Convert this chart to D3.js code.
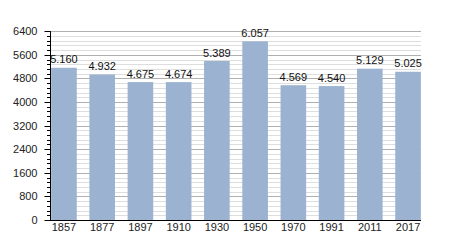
<!DOCTYPE html>
<html>
<head>
  <meta charset="utf-8">
  <title>Population</title>
  <script src="https://d3js.org/d3.v7.min.js"></script>
  <style>
    body { margin: 0; background: white; }
    text { font-family: "Liberation Sans", Arial, sans-serif; }
  </style>
</head>
<body>
  <script>
    var years = ["1857", "1877", "1897", "1910", "1930", "1950", "1970", "1991", "2011", "2017"];
    var population = [5160, 4932, 4675, 4674, 5389, 6057, 4569, 4540, 5129, 5025];
    var yTicks = [0, 800, 1600, 2400, 3200, 4000, 4800, 5600, 6400];
    var minorStep = 160;

    var width = 450, height = 250;
    var plotLeft = 50, plotRight = 422, plotTop = 31.2, plotBottom = 220;
    var gridEnd = 421;

    var svg = d3.select('body').append('svg')
      .attr('width', width)
      .attr('height', height);

    var x = d3.scaleBand()
      .domain(years)
      .range([plotLeft, plotRight])
      .paddingInner(0.33)
      .paddingOuter(0.03);

    var y = d3.scaleLinear()
      .domain([0, 6400])
      .range([plotBottom, plotTop]);

    var minorTicks = d3.range(0, 6400 + 1, minorStep).filter(function(v) { return v % 800 !== 0; });

    function py(d) { return Math.round(y(d)) + 0.5; }

    // minor grid
    svg.append('g').selectAll('line')
      .data(minorTicks)
      .enter().append('line')
      .attr('x1', plotLeft).attr('x2', gridEnd)
      .attr('y1', py).attr('y2', py)
      .attr('stroke', '#dedede');

    // major grid
    svg.append('g').selectAll('line')
      .data(yTicks.slice(1))
      .enter().append('line')
      .attr('x1', plotLeft).attr('x2', gridEnd)
      .attr('y1', py).attr('y2', py)
      .attr('stroke', '#b0b0b0');

    // bars
    var bars = svg.append('g').selectAll('g')
      .data(population)
      .enter().append('g');

    bars.append('rect')
      .attr('x', function(d, i) { return x(years[i]); })
      .attr('y', function(d) { return y(d); })
      .attr('width', x.bandwidth())
      .attr('height', function(d) { return plotBottom - y(d); })
      .attr('fill', '#9bb2d0');

    bars.append('text')
      .attr('x', function(d, i) { return x(years[i]) + x.bandwidth() / 2; })
      .attr('y', function(d) { return y(d) - 4.5; })
      .attr('text-anchor', 'middle')
      .attr('fill', '#111')
      .style('font-size', '11px')
      .text(function(d) { return d3.format(',')(d).replace(',', '.'); });

    // y axis minor ticks
    svg.append('g').selectAll('line')
      .data(minorTicks)
      .enter().append('line')
      .attr('x1', plotLeft - 3).attr('x2', plotLeft + 0.5)
      .attr('y1', py).attr('y2', py)
      .attr('stroke', '#000');

    var yAxis = d3.axisLeft(y)
      .tickValues(yTicks)
      .tickSize(6)
      .tickPadding(7)
      .tickFormat(d3.format('d'));

    var yg = svg.append('g')
      .attr('transform', 'translate(' + (plotLeft + 0.5) + ',0)')
      .call(yAxis);
    yg.select('.domain').remove();
    yg.selectAll('.tick').attr('transform', function(d) { return 'translate(0,' + py(d) + ')'; });
    yg.append('line')
      .attr('x1', 0).attr('x2', 0)
      .attr('y1', plotTop).attr('y2', plotBottom)
      .attr('stroke', '#000');
    yg.selectAll('.tick text')
      .attr('fill', '#222')
      .style('font-size', '11px')
      .style('font-family', '"Liberation Sans", Arial, sans-serif');

    // x axis
    var xAxis = d3.axisBottom(x).tickSize(0).tickPadding(3);
    var xg = svg.append('g')
      .attr('transform', 'translate(0,' + (plotBottom + 0.5) + ')')
      .call(xAxis);
    xg.select('.domain').remove();
    xg.append('line')
      .attr('x1', plotLeft).attr('x2', gridEnd)
      .attr('stroke', '#000');
    xg.selectAll('.tick text')
      .attr('fill', '#222')
      .style('font-size', '11px')
      .style('font-family', '"Liberation Sans", Arial, sans-serif');
  </script>
</body>
</html>
